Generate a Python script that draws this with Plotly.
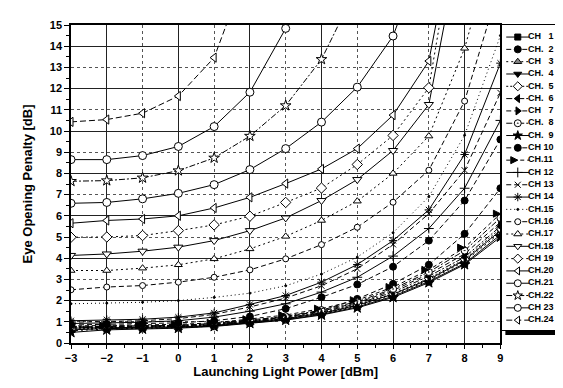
import plotly.graph_objects as go

X = [-3, -2, -1, 0, 1, 2, 3, 4, 5, 6, 7, 8, 9]

CH1 = [0.62, 0.68, 0.70, 0.73, 0.80, 0.95, 1.10, 1.35, 1.70, 2.20, 2.90, 3.75, 5.10]
CH2 = [0.75, 0.78, 0.80, 0.84, 0.92, 1.10, 1.22, 1.53, 2.08, 2.79, 3.69, 5.15, 7.30]
CH3 = [0.58, 0.66, 0.69, 0.72, 0.80, 0.96, 1.12, 1.38, 1.75, 2.25, 2.95, 3.85, 5.20]
CH4 = [0.70, 0.72, 0.74, 0.76, 0.83, 0.98, 1.15, 1.40, 1.78, 2.30, 3.00, 3.90, 5.30]
CH5 = [0.66, 0.70, 0.72, 0.75, 0.82, 0.97, 1.14, 1.42, 1.80, 2.32, 3.05, 3.95, 5.40]
CH6 = [0.72, 0.74, 0.76, 0.78, 0.85, 1.00, 1.18, 1.46, 1.85, 2.40, 3.15, 4.05, 5.50]
CH7 = [0.74, 0.76, 0.78, 0.80, 0.88, 1.03, 1.22, 1.50, 1.90, 2.48, 3.25, 4.20, 5.70]
CH8 = [0.78, 0.80, 0.81, 0.83, 0.90, 1.06, 1.26, 1.55, 1.95, 2.55, 3.35, 4.36, 5.90]
CH9 = [0.50, 0.62, 0.66, 0.70, 0.78, 0.93, 1.08, 1.32, 1.66, 2.15, 2.85, 3.70, 5.00]
CH10 = [0.85, 0.88, 0.90, 0.95, 1.05, 1.25, 1.62, 2.16, 2.76, 3.60, 4.83, 6.72, 9.60]
CH11 = [0.80, 0.82, 0.84, 0.88, 0.95, 1.12, 1.32, 1.62, 2.02, 2.64, 3.45, 4.50, 6.10]
CH12 = [0.92, 0.95, 0.98, 1.05, 1.22, 1.50, 1.85, 2.40, 3.10, 4.10, 5.40, 7.30, 10.5]
CH13 = [0.98, 1.02, 1.05, 1.15, 1.35, 1.70, 2.12, 2.70, 3.50, 4.65, 6.10, 8.15, 11.8]
CH14 = [1.05, 1.10, 1.12, 1.22, 1.42, 1.82, 2.24, 2.87, 3.70, 4.83, 6.28, 8.89, 13.2]
CH15 = [1.85, 1.88, 1.92, 2.00, 2.15, 2.35, 2.70, 3.25, 4.05, 5.20, 6.90, 9.80, 14.5]
CH16 = [2.51, 2.64, 2.71, 2.87, 3.10, 3.45, 3.97, 4.64, 5.46, 6.64, 8.15, 11.41, 17.0]
CH17 = [3.42, 3.42, 3.53, 3.69, 3.97, 4.44, 5.03, 5.78, 6.69, 8.00, 9.76, 13.9, 20.0]
CH18 = [4.13, 4.20, 4.33, 4.52, 4.83, 5.30, 5.90, 6.72, 7.71, 9.08, 11.25, 20.0]
CH19 = [4.99, 5.00, 5.07, 5.30, 5.57, 5.98, 6.63, 7.31, 8.42, 9.79, 12.04, 22.0]
CH20 = [5.65, 5.78, 5.85, 6.00, 6.37, 6.87, 7.52, 8.21, 9.17, 10.75, 13.30, 22.0]
CH21 = [6.59, 6.63, 6.80, 7.06, 7.47, 8.18, 9.17, 10.42, 12.07, 14.48, 19.0]
CH22 = [7.63, 7.66, 7.79, 8.13, 8.73, 9.76, 11.20, 13.38, 16.8]
CH23 = [8.65, 8.65, 8.84, 9.27, 10.21, 11.83, 14.84, 19.0]
CH24 = [10.43, 10.54, 10.84, 11.65, 13.46, 18.0]

SERIES = [CH1, CH2, CH3, CH4, CH5, CH6, CH7, CH8, CH9, CH10, CH11, CH12,
          CH13, CH14, CH15, CH16, CH17, CH18, CH19, CH20, CH21, CH22, CH23, CH24]

NB = "\u00a0"
LABELS = ["CH" + NB * 3 + "1", "CH." + NB * 2 + "2", "CH" + NB * 3 + "3", "CH." + NB * 2 + "4",
          "CH." + NB * 2 + "5", "CH." + NB * 2 + "6", "CH" + NB * 3 + "7", "CH." + NB * 2 + "8",
          "CH." + NB * 2 + "9", "CH" + NB + "10", "CH.11", "CH" + NB + "12",
          "CH" + NB + "13", "CH" + NB + "14", "CH.15", "CH.16",
          "CH.17", "CH.18", "CH" + NB + "19", "CH.20",
          "CH.21", "CH.22", "CH" + NB + "23", "CH.24"]

# (line dash, marker symbol, fill, marker size)
STYLES = [
    ("solid", "square", "black", 6),
    ("5px,3px", "circle", "black", 7),
    ("2px,3px", "triangle-up", "#888", 7),
    ("solid", "triangle-down", "black", 7),
    ("2px,2px", "diamond", "white", 7),
    ("6px,2px,2px,2px", "triangle-left", "black", 7),
    ("5px,3px", "triangle-right", "black", 7),
    ("6px,2px,2px,2px", "circle-dot", "white", 7),
    ("solid", "star", "black", 8),
    ("5px,3px", "circle", "black", 7),
    ("4px,3px", "arrow-right", "black", 7),
    ("solid", "cross-thin", "black", 7),
    ("5px,3px", "x-thin", "black", 6),
    ("solid", "asterisk", "black", 7),
    ("1px,3px", "circle", "black", 2),
    ("5px,3px", "circle", "white", 6),
    ("2px,3px", "triangle-up", "white", 7),
    ("solid", "triangle-down", "white", 8),
    ("2px,3px", "diamond", "white", 8),
    ("solid", "triangle-left", "white", 8),
    ("solid", "circle", "white", 8),
    ("6px,2px,2px,2px", "star", "white", 8),
    ("solid", "circle", "white", 8),
    ("6px,3px", "triangle-left", "white", 8),
]

FONT = "Liberation Sans, Arial, sans-serif"

fig = go.Figure()

for i, ys in enumerate(SERIES):
    dash, sym, fill, size = STYLES[i]
    fig.add_trace(go.Scatter(
        x=X[:len(ys)], y=ys, mode="lines+markers", name=LABELS[i],
        line=dict(color="black", width=1, dash=dash),
        marker=dict(symbol=sym, size=size, color=fill,
                    line=dict(color="black", width=1)),
        showlegend=False, cliponaxis=True,
    ))

# custom legend drawn in its own small axes (one row per channel index)
LEG_LINE_X = [0.08, 0.46]
LEG_MARK_X = 0.27
LEG_TEXT_X = 0.44
for i in range(len(SERIES)):
    dash, sym, fill, size = STYLES[i]
    fig.add_trace(go.Scatter(
        x=LEG_LINE_X, y=[i, i], mode="lines", xaxis="x2", yaxis="y2",
        line=dict(color="black", width=1, dash=dash), showlegend=False,
        hoverinfo="skip"))
    fig.add_trace(go.Scatter(
        x=[LEG_MARK_X], y=[i], mode="markers", xaxis="x2", yaxis="y2",
        marker=dict(symbol=sym, size=min(size, 7), color=fill,
                    line=dict(color="black", width=1)),
        showlegend=False, hoverinfo="skip"))
fig.add_trace(go.Scatter(
    x=[LEG_TEXT_X] * len(LABELS), y=list(range(len(LABELS))), mode="text",
    text=LABELS, textposition="middle right", xaxis="x2", yaxis="y2",
    textfont=dict(family=FONT, size=9, color="black", weight="bold"),
    showlegend=False, cliponaxis=False, hoverinfo="skip"))

# empty trace so the overlay grid axes exist
fig.add_trace(go.Scatter(x=[], y=[], xaxis="x3", yaxis="y3", showlegend=False))

W, H = 563, 388
L, R, T, B = 63, 1, 17, 53
pw, ph = W - L - R, H - T - B
def px(v):
    return (v - L) / pw
def py(v):
    return (H - B - v) / ph

tickfont = dict(family=FONT, size=11, color="black", weight="bold")

fig.update_layout(
    width=W, height=H,
    margin=dict(l=L, r=R, t=T, b=B, pad=0),
    paper_bgcolor="white", plot_bgcolor="white",
    font=dict(family=FONT, color="black"),
    xaxis=dict(domain=[0, px(495)], range=[-3, 9], tick0=-3, dtick=1,
               showline=True, linecolor="black", linewidth=1.5, mirror=True,
               ticks="outside", ticklen=4, tickwidth=1.2, tickcolor="black",
               minor=dict(dtick=0.5, ticklen=3, tickcolor="black", ticks="outside"),
               showgrid=True, gridcolor="#555", griddash="dot", gridwidth=1,
               zeroline=False, tickfont=tickfont,
               title=dict(text="Launching Light Power [dBm]",
                          font=dict(family=FONT, size=13, color="black", weight="bold"),
                          standoff=3)),
    yaxis=dict(domain=[0, 1], range=[0, 15], tick0=0, dtick=1,
               showline=True, linecolor="black", linewidth=1.5, mirror=True,
               ticks="outside", ticklen=5, tickwidth=1.2, tickcolor="black",
               minor=dict(dtick=0.5, ticklen=3, tickcolor="black", ticks="outside"),
               showgrid=True, gridcolor="#555", griddash="dot", gridwidth=1,
               zeroline=False, tickfont=tickfont,
               title=dict(text="Eye Opening Penalty [dB]",
                          font=dict(family=FONT, size=13, color="black", weight="bold"),
                          standoff=14)),
    xaxis3=dict(overlaying="x", anchor="y3", domain=[0, px(495)], range=[-3, 9],
                tick0=0, dtick=2, showgrid=True, gridcolor="#222", gridwidth=1,
                showticklabels=False, ticks="", showline=False, zeroline=False),
    yaxis3=dict(overlaying="y", anchor="x3", range=[0, 15], tick0=0, dtick=2,
                showgrid=True, gridcolor="#222", gridwidth=1,
                showticklabels=False, ticks="", showline=False, zeroline=False),
    xaxis2=dict(domain=[px(496), px(557)], anchor="y2", range=[0, 1],
                showgrid=False, showticklabels=False, ticks="", zeroline=False,
                showline=True, mirror=True, linecolor="black", linewidth=1),
    yaxis2=dict(domain=[py(322), 1], anchor="x2", range=[23.8, -0.98],
                showgrid=False, showticklabels=False, ticks="", zeroline=False,
                showline=True, mirror=True, linecolor="black", linewidth=1),
    shapes=[
        dict(type="rect", xref="paper", yref="paper", x0=px(558), x1=px(562),
             y0=py(327), y1=py(21), fillcolor="black", line=dict(width=0)),
        dict(type="rect", xref="paper", yref="paper", x0=px(500), x1=px(562),
             y0=py(327), y1=py(323), fillcolor="black", line=dict(width=0)),
    ],
)

fig.write_html("out.html")
